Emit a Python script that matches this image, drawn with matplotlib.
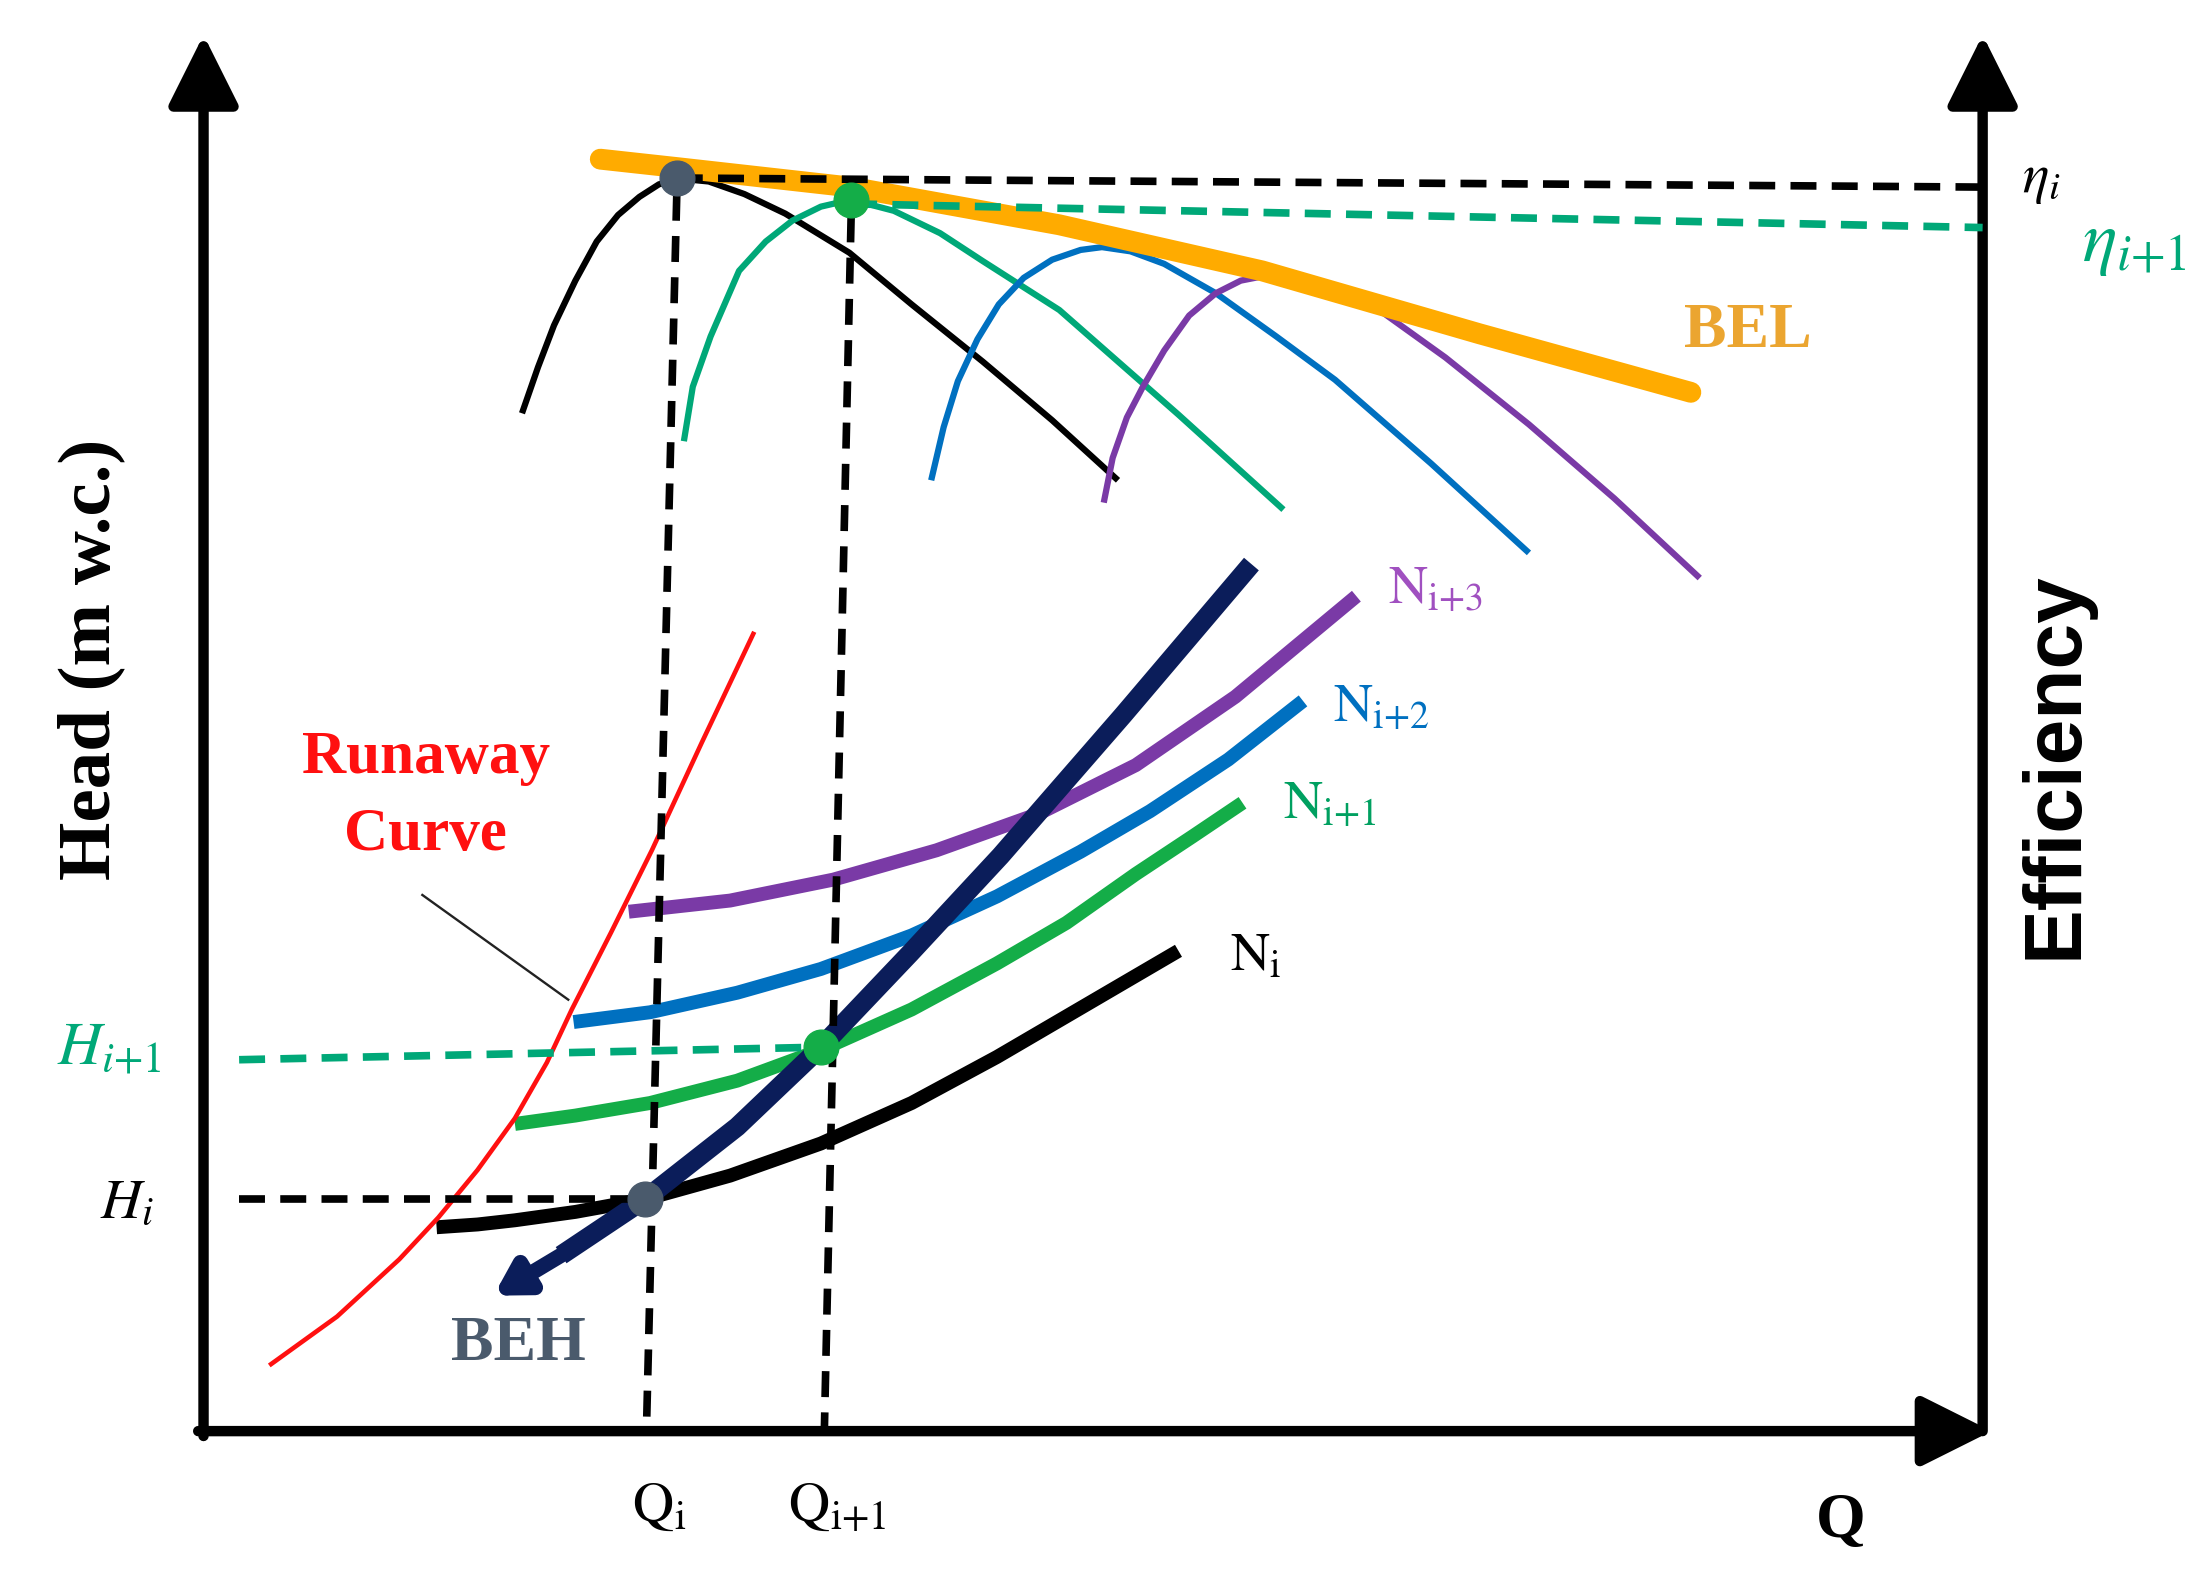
import matplotlib.pyplot as plt

plt.rcParams['font.family'] = ['Liberation Serif', 'DejaVu Serif']
plt.rcParams['mathtext.fontset'] = 'stix'

# axis span in schematic units (Q left->right, H bottom->top)
q_axis_end = 100.5
h_axis_end = 100.0
eff_axis_q = 100.0

# efficiency curves (upper family)
eff_i_q = [17.9, 18.8, 19.7, 20.9, 22.1, 23.3, 24.5, 25.6, 26.8, 28.4, 30.4, 32.7, 36.3, 39.8, 43.8, 47.7, 51.4]
eff_i_h = [72.9, 76.2, 79.2, 82.4, 85.2, 87.1, 88.4, 89.3, 89.7, 89.5, 88.6, 87.2, 84.4, 80.7, 76.6, 72.4, 68.1]

eff_i1_q = [27.0, 27.5, 28.5, 30.1, 31.6, 33.1, 34.7, 36.4, 38.8, 41.4, 43.8, 48.1, 54.8, 60.7]
eff_i1_h = [70.9, 74.8, 78.4, 83.1, 85.2, 86.7, 87.7, 88.2, 87.4, 85.8, 83.8, 80.3, 72.8, 66.0]

eff_i2_q = [40.9, 41.6, 42.4, 43.5, 44.7, 46.1, 47.7, 49.3, 50.5, 52.1, 54.0, 56.9, 60.3, 63.6, 69.0, 74.5]
eff_i2_h = [68.1, 71.9, 75.2, 78.2, 80.7, 82.6, 83.9, 84.6, 84.8, 84.5, 83.6, 81.5, 78.4, 75.3, 69.3, 62.9]

eff_i3_q = [50.6, 51.1, 51.9, 52.8, 54.0, 55.4, 56.9, 58.3, 59.5, 61.5, 63.9, 66.3, 69.8, 74.5, 79.3, 84.1]
eff_i3_h = [66.5, 69.7, 72.6, 74.8, 77.4, 79.9, 81.5, 82.4, 82.7, 82.4, 81.4, 80.1, 76.9, 72.1, 66.8, 61.1]

# best efficiency line
bel_q = [22.3, 26.6, 36.4, 48.1, 59.5, 71.7, 83.6]
bel_h = [91.1, 90.5, 89.1, 86.4, 83.1, 78.6, 74.4]

# head curves (lower family)
n_i_q = [13.1, 15.4, 17.5, 20.9, 24.8, 29.6, 34.7, 39.8, 44.6, 49.7, 54.8]
n_i_h = [14.6, 14.8, 15.1, 15.7, 16.6, 18.3, 20.6, 23.5, 26.8, 30.6, 34.4]

n_i1_q = [17.5, 20.9, 25.1, 30.0, 34.7, 39.8, 44.6, 48.5, 52.4, 55.6, 58.4]
n_i1_h = [22.0, 22.6, 23.5, 25.1, 27.3, 30.2, 33.5, 36.4, 39.9, 42.6, 45.0]

n_i2_q = [20.8, 25.1, 30.0, 34.7, 39.8, 44.6, 49.3, 53.2, 57.6, 61.8]
n_i2_h = [29.3, 30.0, 31.4, 33.1, 35.5, 38.3, 41.5, 44.4, 48.1, 52.3]

n_i3_q = [23.9, 29.6, 35.4, 41.2, 46.9, 52.4, 58.0, 64.8]
n_i3_h = [37.2, 38.0, 39.5, 41.6, 44.2, 47.7, 52.6, 59.8]

# best efficiency head line
beh_q = [16.3, 20.1, 24.8, 30.0, 34.7, 39.7, 44.8, 51.7, 58.9]
beh_h = [9.7, 12.6, 16.6, 21.8, 27.5, 34.2, 41.2, 51.3, 62.1]

# runaway curve
run_q = [3.8, 7.5, 11.0, 13.2, 15.4, 17.5, 19.3, 20.7, 22.9, 25.2, 28.0, 30.9]
run_h = [4.8, 8.2, 12.3, 15.3, 18.7, 22.4, 26.4, 30.2, 35.7, 41.6, 49.3, 57.1]

# operating points: (Q at eta peak, eta) and (Q at head, H)
eta_pt_i = (26.6, 89.75)
head_pt_i = (24.8, 16.6)
eta_pt_i1 = (36.4, 88.2)
head_pt_i1 = (34.7, 27.5)
q_i_base = 24.9
q_i1_base = 34.9
eta_i_end = 89.1
eta_i1_end = 86.2
h_i1_start = 26.6
h_ref_start = 2.0

BLACK = '#000000'
GREEN_EFF = '#00a878'
GREEN_HEAD = '#14ad48'
BLUE = '#0070c0'
PURPLE = '#7a3aa6'
ORANGE = '#ffab00'
NAVY = '#0b1d5a'
RED = '#ff1010'
SLATE = '#4a5a6c'

fig = plt.figure(figsize=(21.89, 15.84), dpi=100)
ax = fig.add_axes([0, 0, 1, 1])
ax.set_xlim(-11.44, 111.6)
ax.set_ylim(-10.95, 102.5)
ax.axis('off')

# axes with arrowheads
arrow = dict(arrowstyle='-|>,head_length=0.72,head_width=0.36', mutation_scale=60,
             lw=7.5, color='black', shrinkA=0, shrinkB=0)
ax.annotate('', xy=(0, h_axis_end), xytext=(0, -0.35), arrowprops=arrow)
ax.annotate('', xy=(eff_axis_q, h_axis_end), xytext=(eff_axis_q, 0), arrowprops=arrow)
ax.annotate('', xy=(q_axis_end, 0), xytext=(-0.3, 0), arrowprops=arrow)

# efficiency curves
for q, h, c in [(eff_i_q, eff_i_h, BLACK), (eff_i1_q, eff_i1_h, GREEN_EFF),
                (eff_i2_q, eff_i2_h, BLUE), (eff_i3_q, eff_i3_h, PURPLE)]:
    ax.plot(q, h, color=c, lw=4.5, solid_capstyle='butt', solid_joinstyle='round', zorder=2)

ax.plot(bel_q, bel_h, color=ORANGE, lw=15, solid_capstyle='round',
        solid_joinstyle='round', zorder=3)

# head curves
for q, h, c in [(n_i_q, n_i_h, BLACK), (n_i1_q, n_i1_h, GREEN_HEAD),
                (n_i2_q, n_i2_h, BLUE), (n_i3_q, n_i3_h, PURPLE)]:
    ax.plot(q, h, color=c, lw=10, solid_capstyle='butt', solid_joinstyle='round', zorder=2)

ax.plot(beh_q[1:], beh_h[1:], color=NAVY, lw=14, solid_capstyle='butt',
        solid_joinstyle='round', zorder=3)
ax.annotate('', xy=(beh_q[0], beh_h[0]), xytext=(beh_q[1], beh_h[1]),
            arrowprops=dict(arrowstyle='-|>,head_length=0.6,head_width=0.35',
                            mutation_scale=30, lw=11, color=NAVY, shrinkA=0, shrinkB=0),
            zorder=3)

ax.plot(run_q, run_h, color=RED, lw=3.3, solid_joinstyle='round', zorder=4)
ax.plot([12.3, 20.5], [38.4, 30.9], color='#222222', lw=1.7, zorder=4)

# dashed guide lines
dash = dict(lw=5.5, dashes=(3.4, 2.0), zorder=4)
ax.plot([eta_pt_i[0], eff_axis_q], [eta_pt_i[1], eta_i_end], color=BLACK, **dash)
ax.plot([eta_pt_i1[0], eff_axis_q], [eta_pt_i1[1] - 0.3, eta_i1_end], color=GREEN_EFF, **dash)
ax.plot([eta_pt_i[0], q_i_base], [eta_pt_i[1] - 1.2, 0.3], color=BLACK, **dash)
ax.plot([eta_pt_i1[0], q_i1_base], [eta_pt_i1[1] - 1.2, 0.3], color=BLACK, **dash)
ax.plot([h_ref_start, head_pt_i[0]], [head_pt_i[1], head_pt_i[1]], color=BLACK, **dash)
ax.plot([h_ref_start, head_pt_i1[0]], [h_i1_start, head_pt_i1[1]], color=GREEN_EFF, **dash)

# operating points
ax.plot([eta_pt_i[0], head_pt_i[0]], [eta_pt_i[1], head_pt_i[1]], 'o', color=SLATE,
        ms=25, zorder=5)
ax.plot([eta_pt_i1[0], head_pt_i1[0]], [eta_pt_i1[1], head_pt_i1[1]], 'o', color=GREEN_HEAD,
        ms=25, zorder=5)

# labels
ax.text(-6.3, 55.3, 'Head (m w.c.)', rotation=90, ha='center', va='center',
        fontsize=54, fontweight='bold')
ax.text(104.1, 47.7, 'Efficiency', rotation=90, ha='center', va='center',
        fontsize=59, fontweight='bold', family=['Liberation Sans', 'DejaVu Sans'])
ax.text(92.0, -6.5, 'Q', ha='center', va='center', fontsize=46, fontweight='bold')
ax.text(25.6, -5.5, r'$\mathrm{Q_i}$', ha='center', va='center', fontsize=41)
ax.text(35.6, -5.5, r'$\mathrm{Q_{i{+}1}}$', ha='center', va='center', fontsize=41)
ax.text(-4.3, 16.3, r'$H_i$', ha='center', va='center', fontsize=41)
ax.text(-5.3, 27.3, r'$H_{i{+}1}$', ha='center', va='center', fontsize=44, color=GREEN_EFF)
ax.text(103.3, 89.6, r'$\eta_i$', ha='center', va='center', fontsize=40)
ax.text(105.6, 84.9, r'$\eta_{i{+}1}$', ha='left', va='center', fontsize=52, color=GREEN_EFF)
ax.text(86.8, 78.7, 'BEL', ha='center', va='center', fontsize=46, fontweight='bold',
        color='#eba530')
ax.text(12.5, 48.2, 'Runaway', ha='center', va='center', fontsize=44, fontweight='bold', color=RED)
ax.text(12.5, 42.7, 'Curve', ha='center', va='center', fontsize=44, fontweight='bold', color=RED)
ax.text(17.7, 6.2, 'BEH', ha='center', va='center', fontsize=46, fontweight='bold', color=SLATE)
ax.text(57.7, 33.9, r'$\mathrm{N_i}$', ha='left', va='center', fontsize=39)
ax.text(60.7, 44.9, r'$\mathrm{N_{i{+}1}}$', ha='left', va='center', fontsize=39, color='#00a060')
ax.text(63.5, 51.8, r'$\mathrm{N_{i{+}2}}$', ha='left', va='center', fontsize=39, color=BLUE)
ax.text(66.6, 60.3, r'$\mathrm{N_{i{+}3}}$', ha='left', va='center', fontsize=39, color='#a050c0')

fig.savefig('out.png', dpi=100)
